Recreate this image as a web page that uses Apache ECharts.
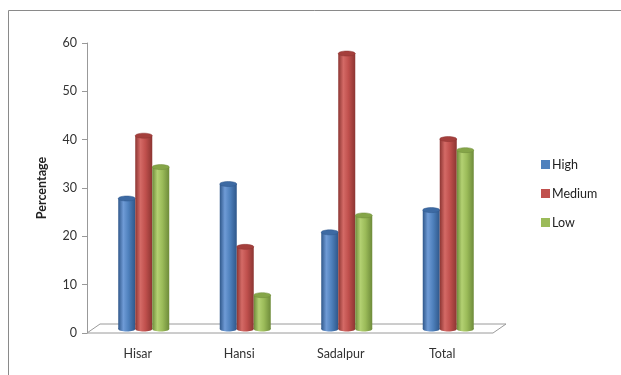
<!DOCTYPE html>
<html>
<head>
<meta charset="utf-8">
<script src="https://cdn.jsdelivr.net/npm/echarts@6/dist/echarts.min.js"></script>
<style>
  html, body { margin: 0; padding: 0; background: #fff; }
  #chart { width: 621px; height: 375px; }
</style>
</head>
<body>
<div id="chart"></div>
<script>
// Sites and share of respondents (%) in each level
const categories = ['Hisar', 'Hansi', 'Sadalpur', 'Total'];
const seriesNames = ['High', 'Medium', 'Low'];
const highValues = [27, 30, 20, 24.6];
const mediumValues = [40, 17, 57, 39.3];
const lowValues = [33.5, 7, 23.5, 37];
const yTicks = [0, 10, 20, 30, 40, 50, 60];

const palette = [
  { base: '#4F81BD', dark: '#2F578A', light: '#6F9BD6', top: '#3D6AA3' },
  { base: '#C0504D', dark: '#8C3532', light: '#D46A66', top: '#A43F3C' },
  { base: '#9BBB59', dark: '#6E8B3A', light: '#B3D172', top: '#85A548' }
];

// plot frame
const G = { left: 87, right: 128, top: 43, bottom: 42 };
const W = 621, H = 375;
const depthX = 13, depthY = 9;     // floor depth
const barW = 17, barShiftX = 6, barShiftY = -4;

function cylinder(seriesIdx) {
  const c = palette[seriesIdx];
  return function (params, api) {
    const cat = api.value(0);
    const v = api.value(1);
    const base = api.coord([cat, 0]);
    const top = api.coord([cat, v]);
    const cx = base[0] + barShiftX + (seriesIdx - 1) * barW;
    const x0 = cx - barW / 2;
    const yb = base[1] + barShiftY;
    const yt = top[1] + barShiftY;
    const grad = new echarts.graphic.LinearGradient(0, 0, 1, 0, [
      { offset: 0, color: c.dark },
      { offset: 0.3, color: c.light },
      { offset: 0.6, color: c.base },
      { offset: 1, color: c.dark }
    ]);
    return {
      type: 'group',
      children: [
        { type: 'ellipse', shape: { cx: cx, cy: yb, rx: barW / 2, ry: 2.5 }, style: { fill: grad } },
        { type: 'rect', shape: { x: x0, y: yt, width: barW, height: yb - yt }, style: { fill: grad } },
        { type: 'ellipse', shape: { cx: cx, cy: yt, rx: barW / 2, ry: 2.5 },
          style: { fill: c.top, stroke: c.dark, lineWidth: 0.5 } }
      ]
    };
  };
}

const valueSets = [highValues, mediumValues, lowValues];
const chart = echarts.init(document.getElementById('chart'), null, { renderer: 'canvas' });

const fx0 = G.left, fx1 = W - G.right, fy = H - G.bottom;

chart.setOption({
  animation: false,
  backgroundColor: '#ffffff',
  color: palette.map(p => p.base),
  textStyle: { fontFamily: 'Lato, "Liberation Sans", sans-serif' },
  grid: { left: G.left, right: G.right, top: G.top, bottom: G.bottom },
  legend: {
    orient: 'vertical',
    left: 536,
    top: 153,
    itemWidth: 9,
    itemHeight: 9,
    itemGap: 16,
    icon: 'rect',
    data: seriesNames,
    textStyle: { fontSize: 12.5, color: '#222', fontFamily: 'Lato, sans-serif', padding: [0, 0, 0, -3] }
  },
  xAxis: {
    type: 'category',
    data: categories,
    axisLine: { show: false },
    axisTick: { show: false },
    axisLabel: { margin: 14, fontSize: 12.5, color: '#333' }
  },
  yAxis: {
    type: 'value',
    min: yTicks[0],
    max: yTicks[yTicks.length - 1],
    interval: 10,
    name: 'Percentage',
    nameLocation: 'middle',
    nameGap: 39,
    nameTextStyle: { fontSize: 12.5, fontWeight: 'bold', color: '#222' },
    axisLine: { show: true, lineStyle: { color: '#999', width: 1 } },
    axisTick: { show: true, length: 5, lineStyle: { color: '#999' } },
    axisLabel: { fontSize: 12.5, color: '#333', margin: 10 },
    splitLine: { show: false }
  },
  graphic: [
    // outer frame (top and left edges)
    { type: 'polyline', silent: true, z: 0,
      shape: { points: [[8.5, H], [8.5, 10.5], [W, 10.5]] },
      style: { stroke: '#8a8a8a', lineWidth: 1, fill: null } },
    // floor of the plot
    { type: 'polygon', silent: true, z: 0,
      shape: { points: [[fx0, fy], [fx1, fy], [fx1 + depthX, fy - depthY], [fx0 + depthX, fy - depthY]] },
      style: { stroke: '#9a9a9a', lineWidth: 1, fill: '#ffffff' } }
  ],
  series: seriesNames.map((name, i) => ({
    name: name,
    type: 'custom',
    z: 5,
    renderItem: cylinder(i),
    encode: { x: 0, y: 1 },
    data: categories.map((cat, k) => [k, valueSets[i][k]])
  }))
});
</script>
</body>
</html>
